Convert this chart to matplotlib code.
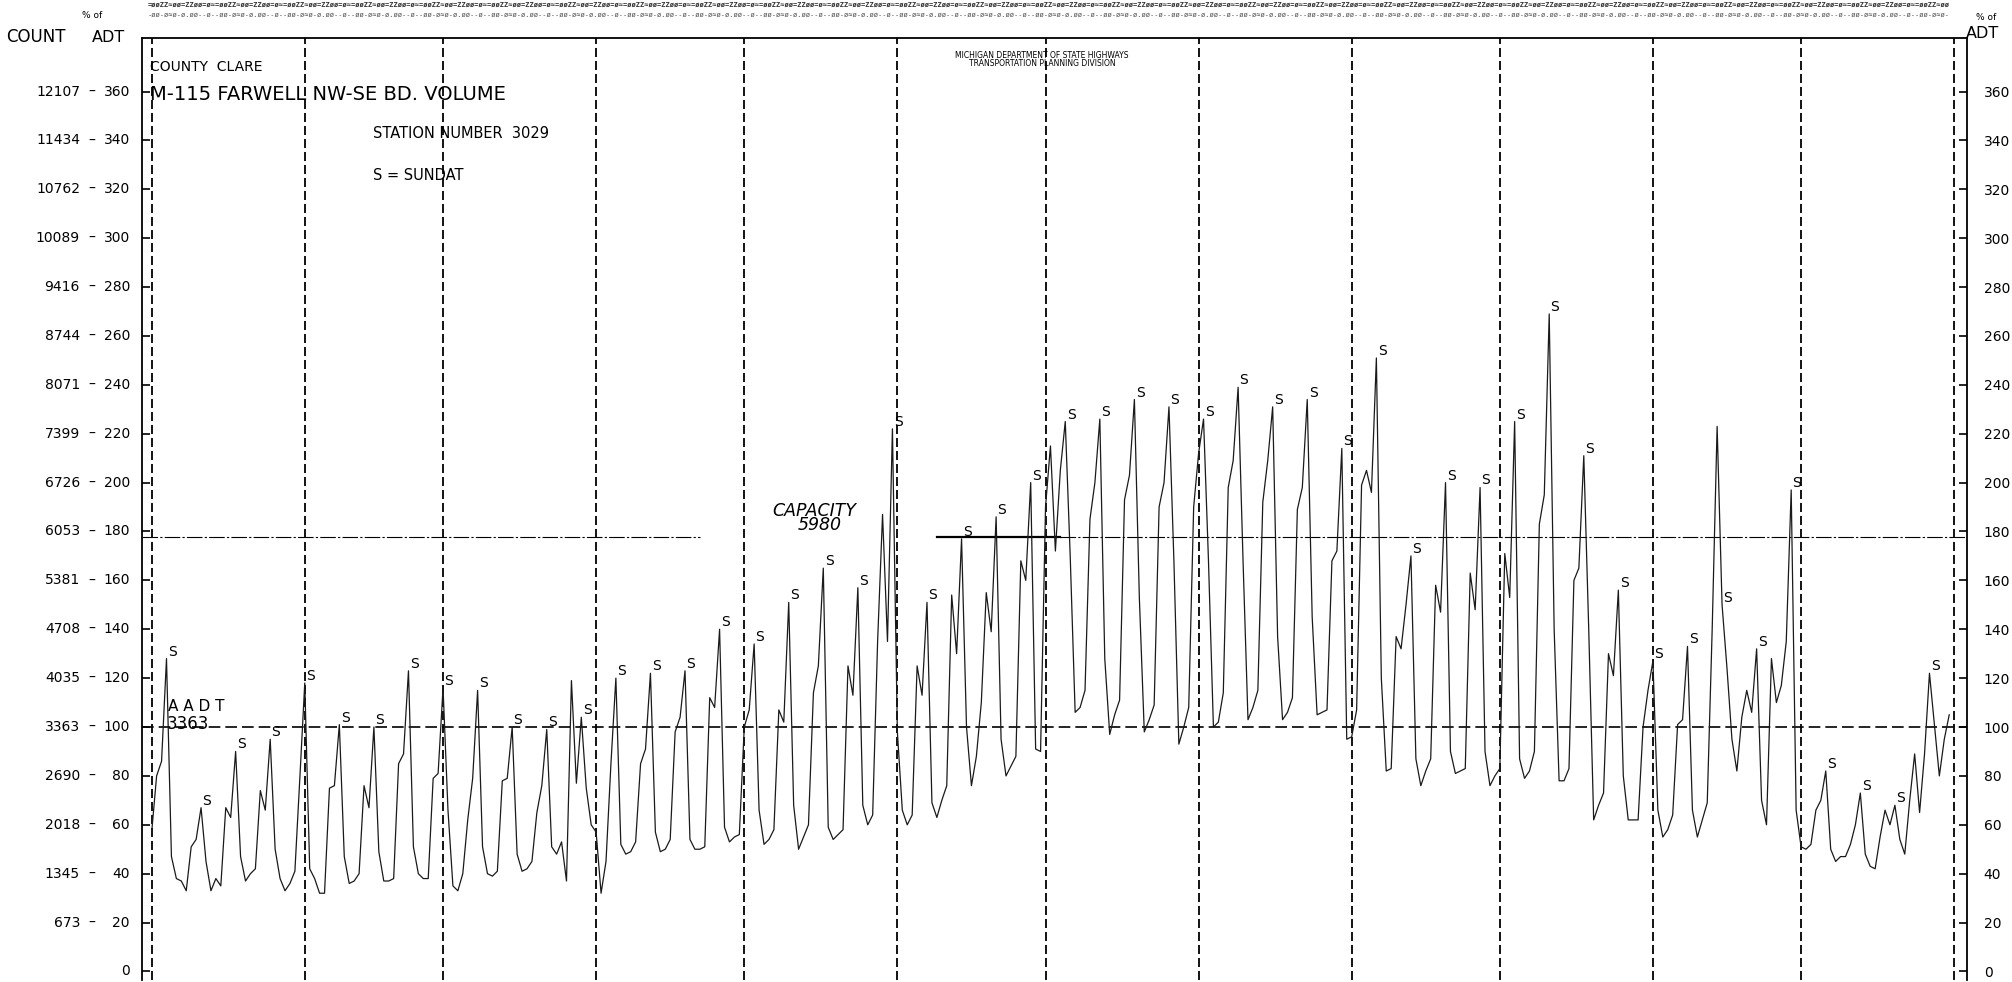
import numpy as np
import matplotlib
matplotlib.use("Agg")
import matplotlib.pyplot as plt

# daily volume as % of ADT, one list per month (Jan 1 .. Dec 31)
jan = [57, 80, 86, 128, 47, 38, 37, 33, 51, 54, 67, 45, 33, 38, 35, 67, 63, 90,
       47, 37, 40, 42, 74, 66, 95, 50, 38, 33, 36, 41, 79]
feb = [118, 42, 38, 32, 32, 75, 76, 101, 47, 36, 37, 40, 76, 67, 100,
       49, 37, 37, 38, 85, 89, 123, 51, 40, 38, 38, 79, 81]
mar = [116, 66, 35, 33, 40, 62, 79, 115, 51, 40, 39, 41, 78, 79, 100,
       48, 41, 42, 45, 65, 76, 99, 51, 48, 53, 37, 119, 77, 104, 75, 60]
apr = [57, 32, 45, 85, 120, 52, 48, 49, 53, 85, 91, 122, 57, 49, 50, 54, 98, 104, 123,
       54, 50, 50, 51, 112, 108, 140, 59, 53, 55, 56]
may = [100, 107, 134, 66, 52, 54, 58, 107, 102, 151, 68, 50, 55, 60, 114, 125, 165,
       59, 54, 56, 58, 125, 113, 157, 68, 60, 64, 135, 187, 135, 222]
jun = [98, 66, 60, 64, 125, 113, 151, 69, 63, 70, 76, 154, 130, 177,
       100, 76, 88, 110, 155, 139, 186, 95, 80, 84, 88, 168, 160, 200, 91, 90]
jul = [190, 215, 172, 205, 225, 170, 106, 108, 115, 185, 200, 226,
       128, 97, 105, 111, 193, 203, 234, 153, 98, 103, 109, 190, 200, 231,
       168, 93, 100, 108, 190]
aug = [212, 226, 168, 100, 102, 114, 198, 209, 239, 168, 103, 108, 115, 192, 209, 231,
       137, 103, 106, 112, 189, 198, 234, 145, 105, 106, 107, 168, 172, 214, 95]
sep = [96, 107, 199, 205, 196, 251, 120, 82, 83, 137, 132, 150, 170,
       87, 76, 82, 87, 158, 147, 200, 90, 81, 82, 83, 163, 148, 198, 90, 76, 80]
oct_ = [83, 171, 153, 225, 87, 79, 82, 90, 183, 195, 269, 140, 78, 78, 83, 160, 165, 211,
        140, 62, 68, 73, 130, 121, 156, 80, 62, 62, 62, 100, 115]
nov = [127, 66, 55, 58, 64, 101, 103, 133, 66, 55, 62, 69, 140, 223, 150,
       124, 95, 82, 104, 115, 106, 132, 70, 60, 128, 110, 117, 135, 197, 66]
dec = [51, 50, 52, 66, 70, 82, 50, 45, 47, 47, 52, 60, 73, 48, 43, 42, 55, 66, 60, 68,
       54, 48, 70, 89, 65, 89, 122, 101, 80, 95, 105]

months = [jan, feb, mar, apr, may, jun, jul, aug, sep, oct_, nov, dec]
first_sunday = 3
aadt = 3363
capacity = 5980

counts = [0, 673, 1345, 2018, 2690, 3363, 4035, 4708, 5381, 6053, 6726, 7399,
          8071, 8744, 9416, 10089, 10762, 11434, 12107]
pcts = list(range(0, 361, 20))

W, H = 2012, 982
vol = np.concatenate([np.asarray(m, float) for m in months])
day = np.arange(len(vol))
month_starts = np.cumsum([0] + [len(m) for m in months])
cap_pct = capacity / aadt * 100

plt.rcParams["font.family"] = ["DejaVu Sans"]
fig = plt.figure(figsize=(W / 100, H / 100), dpi=100)
ax = fig.add_axes([142 / W, 2 / H, (1967 - 142) / W, (980 - 38.5) / H])
ax.set_xlim(-1.96, 367.6)
ax.set_ylim(-3.5, 381.7)


def ftxt(x, y, s, **kw):
    # text placed in figure pixels, y measured from the top
    kw.setdefault("va", "center")
    fig.text(x / W, 1 - y / H, s, **kw)


# month separators and reference lines
ax.vlines(month_starts, -3.5, 381.7, colors="k", lw=1.3, linestyles=(0, (5, 2.2)))
ax.axhline(100, color="k", lw=1.2, ls=(0, (7, 3)))
ax.plot([-1.96, 111], [cap_pct, cap_pct], color="k", lw=0.8, ls=(0, (14, 2, 2, 2)))
ax.plot([159, 184], [cap_pct, cap_pct], color="k", lw=1.6)
ax.plot([184, 367.6], [cap_pct, cap_pct], color="k", lw=0.8, ls=(0, (14, 2, 2, 2)))

ax.plot(day, vol, color="#1a1a1a", lw=0.9)
for d in range(first_sunday, len(vol), 7):
    ax.annotate("S", (d, vol[d]), xytext=(1, 0), textcoords="offset points",
                ha="left", va="bottom", fontsize=10)

ax.text(3.3, 106.5, "A A D T", fontsize=11, va="baseline")
ax.text(3.1, 99.0, str(aadt), fontsize=12, va="baseline")
ax.text(125.6, 186.5, "CAPACITY", fontsize=12.5, style="italic", va="baseline")
ax.text(130.9, 180.5, str(capacity), fontsize=12.5, style="italic", va="baseline")

# axes frame
for side in ("top", "left", "right"):
    ax.spines[side].set_linewidth(1.3)
ax.spines["bottom"].set_visible(False)
ax.set_xticks([])
ax.set_yticks(pcts)
ax.tick_params(axis="y", direction="in", length=6, width=1.2, left=True, right=True,
               labelleft=False, labelright=True, labelsize=10, pad=12)
ax.set_yticklabels([str(p) for p in pcts])

ytr = ax.get_yaxis_transform()
for c, p in zip(counts, pcts):
    ax.text(-0.0066, p, str(p), transform=ytr, ha="right", va="center", fontsize=10)
    if c:
        ax.text(-0.0274, p, "–", transform=ytr, ha="center", va="center", fontsize=10)
        ax.text(-0.034, p, str(c), transform=ytr, ha="right", va="center", fontsize=10)

# header block
ftxt(6, 37, "COUNT", fontsize=12)
ftxt(82, 15, "% of", fontsize=6.5)
ftxt(92, 37, "ADT", fontsize=11.5)
ftxt(1976, 17, "% of", fontsize=6.5)
ftxt(1966, 33, "ADT", fontsize=11.5)

row1 = "=øøZZ≈øø=ZZøø=ø≈" * 40
row2 = "-øø-ø≈ø-ø.øø--ø-" * 40
ftxt(148, 5, row1[:424], fontsize=5, family="DejaVu Sans Mono", weight="bold", color="#333")
ftxt(148, 15, row2[:424], fontsize=5, family="DejaVu Sans Mono", color="#555")

ftxt(150, 67, "COUNTY  CLARE", fontsize=10)
ftxt(150, 94, "M-115 FARWELL NW-SE BD. VOLUME", fontsize=14)
ftxt(373, 133, "STATION NUMBER  3029", fontsize=10.5)
ftxt(373, 175, "S = SUNDAT", fontsize=10.5)
ftxt(1042, 56, "MICHIGAN DEPARTMENT OF STATE HIGHWAYS", fontsize=5.5, ha="center")
ftxt(1042, 64, "TRANSPORTATION PLANNING DIVISION", fontsize=5.5, ha="center")

fig.savefig("out.png", dpi=100, facecolor="white")
